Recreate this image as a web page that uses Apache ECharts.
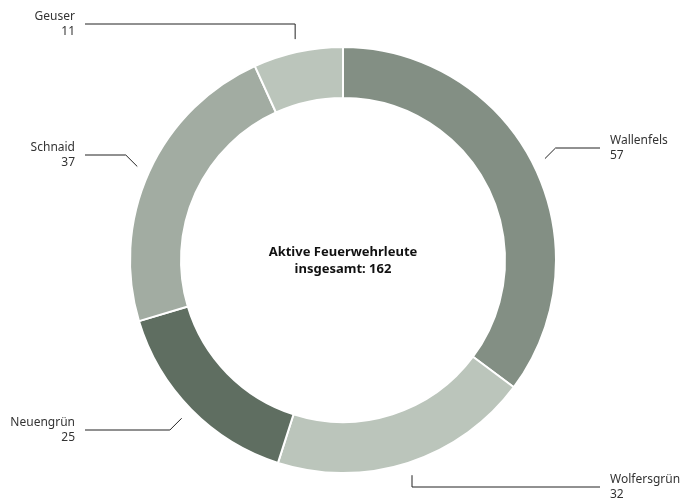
<!DOCTYPE html>
<html>
<head>
<meta charset="utf-8">
<script src="https://cdn.jsdelivr.net/npm/echarts@6/dist/echarts.min.js"></script>
<style>
html,body{margin:0;padding:0;background:#fff}
#chart{width:693px;height:499px}
</style>
</head>
<body>
<div id="chart"></div>
<script>
var orte = ['Wallenfels', 'Wolfersgrün', 'Neuengrün', 'Schnaid', 'Geuser'];
var aktive = [57, 32, 25, 37, 11];
var farben = ['#838f84', '#bbc5bb', '#5f6e61', '#a2aca2', '#bbc5bb'];
var titel = 'Aktive Feuerwehrleute';

var cx = 343, cy = 260;
var rInnen = 162, rAussen = 213, rLinie = 226;
// Beschriftung: Hoehe der Linie, Seite, Knick schraeg oder senkrecht
var beschriftung = [
  {y: 148, seite: 'rechts', knick: 'schraeg'},
  {y: 487, seite: 'rechts', knick: 'senkrecht'},
  {y: 430, seite: 'links', knick: 'schraeg'},
  {y: 155, seite: 'links', knick: 'schraeg'},
  {y: 24, seite: 'links', knick: 'senkrecht'}
];

var summe = 0;
for (var i = 0; i < aktive.length; i++) summe += aktive[i];

//Winkel der Segmentmitte (von oben, im Uhrzeigersinn)
function mitte(idx) {
  var a = 0;
  for (var j = 0; j < idx; j++) a += aktive[j];
  a += aktive[idx] / 2;
  return a / summe * 2 * Math.PI;
}

var daten = [];
for (var k = 0; k < orte.length; k++) {
  daten.push({name: orte[k], value: aktive[k], itemStyle: {color: farben[k]}});
}

var chart = echarts.init(document.getElementById('chart'), null, {renderer: 'canvas'});
chart.setOption({
  animation: false,
  graphic: [{
    type: 'text',
    x: cx,
    y: cy + 1,
    style: {
      text: titel + '\ninsgesamt: ' + summe,
      textAlign: 'center',
      textVerticalAlign: 'middle',
      lineHeight: 17,
      fill: '#111',
      font: 'bold 13px "Noto Sans"'
    }
  }],
  series: [{
    type: 'pie',
    center: [cx, cy],
    radius: [rInnen, rAussen],
    startAngle: 90,
    clockwise: true,
    avoidLabelOverlap: false,
    silent: true,
    itemStyle: {
      borderColor: '#fff',
      borderWidth: 2
    },
    label: {
      show: true,
      position: 'outside',
      formatter: '{b}\n{c}',
      color: '#333',
      fontFamily: 'Noto Sans',
      fontSize: 12,
      lineHeight: 15
    },
    labelLine: {
      show: true,
      smooth: false,
      lineStyle: {color: '#222', width: 1}
    },
    labelLayout: function (params) {
      var i = params.dataIndex;
      var b = beschriftung[i];
      var w = mitte(i);
      var sx = cx + rLinie * Math.sin(w);
      var sy = cy - rLinie * Math.cos(w);
      var rechts = b.seite === 'rechts';
      var kx = sx;
      if (b.knick === 'schraeg') {
        kx = sx + (rechts ? 1 : -1) * Math.abs(b.y - sy);
      }
      var tx = rechts ? 610 : 75;
      var ex = rechts ? tx - 10 : tx + 10;
      return {
        x: tx,
        y: b.y,
        align: rechts ? 'left' : 'right',
        verticalAlign: 'middle',
        labelLinePoints: [[sx, sy], [kx, b.y], [ex, b.y]]
      };
    },
    data: daten
  }]
});
</script>
</body>
</html>
